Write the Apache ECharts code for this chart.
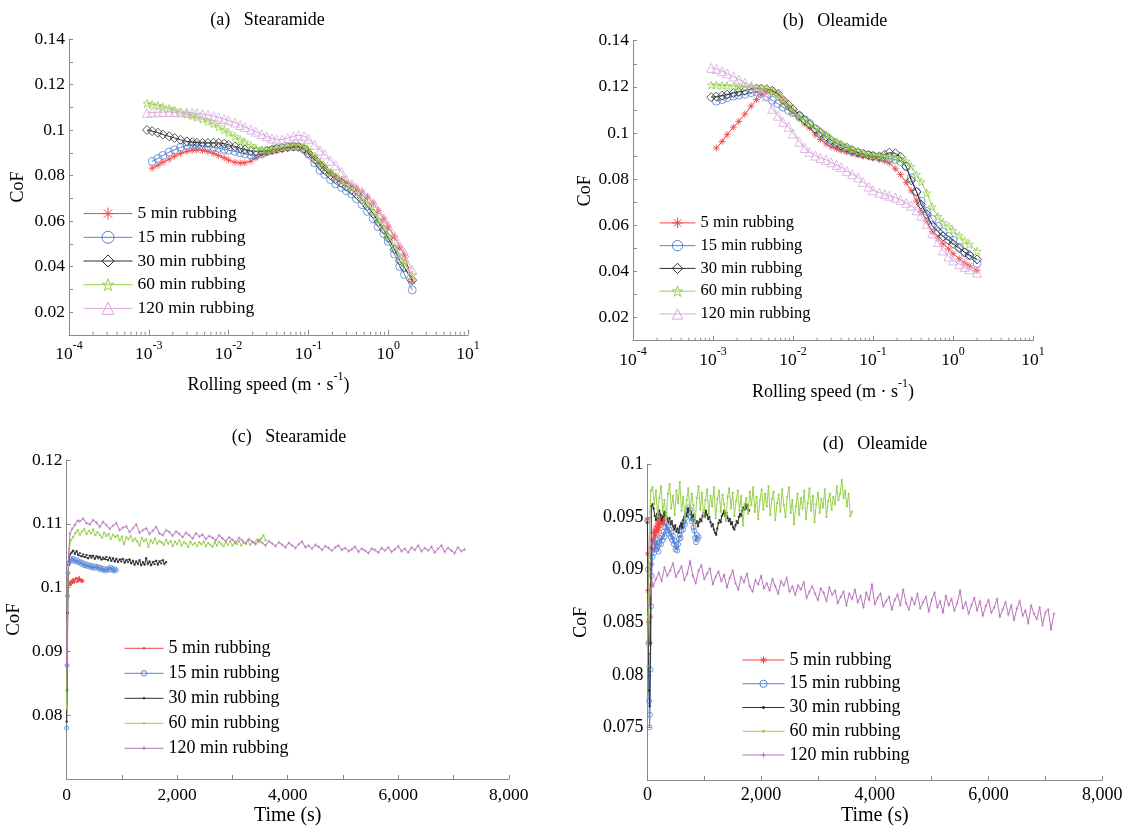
<!DOCTYPE html>
<html><head><meta charset="utf-8">
<script src="https://cdn.jsdelivr.net/npm/echarts@6/dist/echarts.min.js"></script>
<style>html,body{margin:0;padding:0;background:#fff}#c{width:1127px;height:827px}</style>
</head><body><div id="c"></div>
<script>
// ---------------- DATA ----------------
const seriesNames = ['5 min rubbing', '15 min rubbing', '30 min rubbing', '60 min rubbing', '120 min rubbing'];
const panelTitles = ['(a)   Stearamide', '(b)   Oleamide', '(c)   Stearamide', '(d)   Oleamide'];
const logTickLabels = ['-4', '-3', '-2', '-1', '0', '1'];
const minorLogTicks = [0.0002,0.0003,0.0004,0.0005,0.0006,0.0007,0.0008,0.0009,
  0.002,0.003,0.004,0.005,0.006,0.007,0.008,0.009,
  0.02,0.03,0.04,0.05,0.06,0.07,0.08,0.09,
  0.2,0.3,0.4,0.5,0.6,0.7,0.8,0.9,
  2,3,4,5,6,7,8,9];

// rolling speed (m/s) shared by panels (a) and (b)
const speed = [0.00095,0.0011,0.0013,0.0015,0.0018,0.0021,0.0025,0.003,0.0035,0.004,
  0.0047,0.0055,0.0065,0.0075,0.0088,0.01,0.012,0.014,0.016,0.019,
  0.022,0.026,0.03,0.035,0.04,0.047,0.055,0.065,0.075,0.088,
  0.1,0.12,0.14,0.16,0.19,0.22,0.26,0.3,0.35,0.4,
  0.47,0.55,0.65,0.75,0.88,1.0,1.2,1.4,1.6,2.0];

// (a) Stearamide, CoF vs rolling speed
const a5 = [null,0.0832,0.0845,0.0858,0.0872,0.0885,0.0897,0.0906,0.0911,0.0912,
  0.0910,0.0905,0.0897,0.0888,0.0878,0.0868,0.0858,0.0855,0.0856,0.0863,
  0.0878,0.0892,0.0899,0.0904,0.0908,0.0914,0.0920,0.0925,0.0926,0.0918,
  0.0902,0.0878,0.0852,0.0835,0.0810,0.0795,0.0782,0.0768,0.0755,0.0742,
  0.0728,0.0705,0.0678,0.0645,0.0610,0.0575,0.0530,0.0485,0.0450,0.0335];
const a15 = [null,0.0862,0.0875,0.0888,0.0903,0.0913,0.0924,0.0932,0.0935,0.0934,
  0.0931,0.0927,0.0924,0.0920,0.0915,0.0911,0.0906,0.0900,0.0895,0.0890,
  0.0889,0.0895,0.0905,0.0912,0.0917,0.0921,0.0925,0.0927,0.0926,0.0915,
  0.0893,0.0855,0.0822,0.0805,0.0782,0.0763,0.0748,0.0733,0.0718,0.0698,
  0.0672,0.0642,0.0610,0.0575,0.0545,0.0510,0.0455,0.0400,0.0365,0.0297];
const a30 = [0.1000,0.0995,0.0988,0.0980,0.0972,0.0965,0.0957,0.0950,0.0946,0.0944,
  0.0943,0.0943,0.0944,0.0943,0.0940,0.0935,0.0928,0.0920,0.0914,0.0908,
  0.0905,0.0906,0.0910,0.0914,0.0918,0.0922,0.0925,0.0927,0.0926,0.0917,
  0.0898,0.0870,0.0845,0.0825,0.0802,0.0785,0.0768,0.0752,0.0737,0.0718,
  0.0695,0.0665,0.0632,0.0595,0.0562,0.0525,0.0475,0.0425,0.0395,0.0340];
const a60 = [0.1117,0.1113,0.1108,0.1102,0.1095,0.1088,0.1078,0.1069,0.1062,0.1056,
  0.1047,0.1037,0.1026,0.1014,0.1000,0.0988,0.0972,0.0958,0.0947,0.0932,
  0.0920,0.0913,0.0912,0.0915,0.0919,0.0924,0.0928,0.0931,0.0933,0.0928,
  0.0912,0.0885,0.0858,0.0840,0.0815,0.0797,0.0779,0.0762,0.0747,0.0728,
  0.0705,0.0676,0.0642,0.0605,0.0570,0.0535,0.0490,0.0445,0.0415,0.0363];
const a120 = [0.1075,0.1077,0.1078,0.1079,0.1079,0.1079,0.1078,0.1077,0.1075,0.1073,
  0.1070,0.1066,0.1061,0.1055,0.1048,0.1042,0.1033,0.1022,0.1013,0.1002,
  0.0993,0.0982,0.0972,0.0963,0.0958,0.0958,0.0965,0.0973,0.0977,0.0973,
  0.0962,0.0935,0.0910,0.0893,0.0865,0.0845,0.0815,0.0780,0.0762,0.0745,
  0.0728,0.0705,0.0679,0.0645,0.0610,0.0580,0.0535,0.0490,0.0460,0.0385];

// (b) Oleamide, CoF vs rolling speed
const b5 = [null,0.0935,0.0963,0.0993,0.1025,0.1050,0.1082,0.1117,0.1145,0.1165,
  0.1180,0.1182,0.1168,0.1143,0.1113,0.1087,0.1062,0.1040,0.1022,0.0992,
  0.0972,0.0953,0.0940,0.0932,0.0925,0.0918,0.0911,0.0905,0.0900,0.0896,
  0.0892,0.0885,0.0878,0.0870,0.0845,0.0820,0.0785,0.0750,0.0705,0.0660,
  0.0618,0.0572,0.0545,0.0520,0.0498,0.0477,0.0455,0.0437,0.0425,0.0404];
const b15 = [null,0.1138,0.1145,0.1153,0.1160,0.1164,0.1168,0.1175,0.1179,0.1172,
  0.1158,0.1142,0.1127,0.1112,0.1098,0.1088,0.1073,0.1057,0.1042,0.1017,
  0.0997,0.0978,0.0958,0.0945,0.0935,0.0927,0.0920,0.0914,0.0909,0.0904,
  0.0899,0.0895,0.0891,0.0890,0.0885,0.0877,0.0855,0.0805,0.0745,0.0705,
  0.0660,0.0625,0.0595,0.0572,0.0552,0.0535,0.0505,0.0482,0.0468,0.0435];
const b30 = [0.1155,0.1158,0.1162,0.1166,0.1173,0.1178,0.1183,0.1190,0.1193,0.1193,
  0.1190,0.1183,0.1170,0.1143,0.1122,0.1102,0.1077,0.1055,0.1038,0.1018,
  0.1003,0.0985,0.0968,0.0955,0.0946,0.0937,0.0926,0.0916,0.0910,0.0905,
  0.0901,0.0899,0.0906,0.0915,0.0912,0.0897,0.0855,0.0795,0.0745,0.0690,
  0.0648,0.0598,0.0572,0.0552,0.0535,0.0520,0.0500,0.0483,0.0472,0.0452];
const b60 = [0.1208,0.1208,0.1206,0.1205,0.1203,0.1202,0.1200,0.1198,0.1196,0.1195,
  0.1188,0.1178,0.1165,0.1143,0.1118,0.1097,0.1074,0.1055,0.1041,0.1022,
  0.1008,0.0992,0.0975,0.0962,0.0952,0.0940,0.0930,0.0921,0.0913,0.0906,
  0.0902,0.0900,0.0899,0.0898,0.0893,0.0888,0.0878,0.0855,0.0820,0.0788,
  0.0740,0.0680,0.0638,0.0612,0.0595,0.0578,0.0555,0.0533,0.0518,0.0488];
const b120 = [0.1282,0.1278,0.1268,0.1258,0.1245,0.1232,0.1218,0.1204,0.1192,0.1178,
  0.1158,0.1105,0.1075,0.1048,0.1027,0.0998,0.0962,0.0935,0.0918,0.0902,
  0.0892,0.0884,0.0873,0.0862,0.0852,0.0835,0.0822,0.0808,0.0788,0.0768,
  0.0752,0.0742,0.0735,0.0728,0.0720,0.0710,0.0698,0.0685,0.0665,0.0642,
  0.0607,0.0565,0.0528,0.0491,0.0465,0.0448,0.0432,0.0420,0.0410,0.0395];

// (c) Stearamide, CoF vs time: ramp points [t, CoF], then regular samples
const c5Ramp = [[0,0.0838],[6,0.0905],[12,0.0962],[20,0.0995],[30,0.1003]];
const c5Start = 45, c5Step = 15;
const c5 = [0.1005,0.1009,0.1004,0.1011,0.1007,0.1013,0.1008,0.1012,0.1015,0.1009,
  0.1014,0.1010,0.1016,0.1011,0.1013,0.1009,0.1012,0.1010];
const c15Ramp = [[0,0.0780],[8,0.0878],[16,0.0987],[25,0.1023],[40,0.1038]];
const c15Start = 60, c15Step = 20;
const c15 = [0.1041,0.1045,0.1042,0.1046,0.1041,0.1044,0.1040,0.1043,0.1039,0.1041,
  0.1037,0.1040,0.1035,0.1038,0.1034,0.1037,0.1033,0.1036,0.1032,0.1035,
  0.1031,0.1034,0.1030,0.1034,0.1031,0.1033,0.1029,0.1032,0.1028,0.1031,
  0.1027,0.1030,0.1026,0.1029,0.1027,0.1031,0.1028,0.1032,0.1027,0.1030,
  0.1026,0.1029,0.1027];
const c30Ramp = [[0,0.0790],[10,0.0840],[20,0.0960],[35,0.1035],[60,0.1052]];
const c30Start = 90, c30Step = 30;
const c30 = [0.1055,0.1058,0.1053,0.1057,0.1051,0.1054,0.1049,0.1052,0.1048,0.1051,
  0.1046,0.1050,0.1047,0.1050,0.1045,0.1049,0.1046,0.1048,0.1044,0.1047,
  0.1045,0.1048,0.1043,0.1047,0.1042,0.1046,0.1041,0.1045,0.1040,0.1044,
  0.1041,0.1045,0.1039,0.1043,0.1040,0.1044,0.1038,0.1042,0.1036,0.1041,
  0.1037,0.1043,0.1035,0.1040,0.1036,0.1046,0.1037,0.1041,0.1035,0.1040,
  0.1037,0.1042,0.1036,0.1041,0.1038,0.1043,0.1037,0.1040];
const c60Ramp = [[0,0.0810],[15,0.0940],[30,0.1025],[50,0.1062],[80,0.1075]];
const c60Start = 120, c60Step = 40;
const c60 = [0.1079,0.1086,0.1090,0.1083,0.1088,0.1092,0.1084,0.1089,0.1085,0.1091,
  0.1082,0.1087,0.1083,0.1078,0.1086,0.1081,0.1084,0.1076,0.1083,0.1079,
  0.1082,0.1074,0.1080,0.1068,0.1079,0.1076,0.1081,0.1073,0.1077,0.1072,
  0.1066,0.1078,0.1073,0.1076,0.1064,0.1074,0.1070,0.1077,0.1069,0.1073,
  0.1071,0.1067,0.1075,0.1069,0.1073,0.1065,0.1072,0.1068,0.1074,0.1066,
  0.1071,0.1069,0.1064,0.1072,0.1067,0.1070,0.1065,0.1071,0.1068,0.1072,
  0.1065,0.1070,0.1067,0.1064,0.1071,0.1066,0.1072,0.1068,0.1065,0.1071,
  0.1067,0.1073,0.1066,0.1070,0.1068,0.1073,0.1066,0.1071,0.1069,0.1074,
  0.1067,0.1072,0.1070,0.1075,0.1071,0.1077,0.1082,0.1074];
const c120Ramp = [[0,0.0877],[15,0.0955],[30,0.1040],[60,0.1085],[100,0.1092],[150,0.1098],[200,0.1105]];
const c120Start = 240, c120Step = 60;
const c120 = [0.1104,0.1108,0.1101,0.1099,0.1106,0.1102,0.1095,0.1103,0.1098,0.1092,
  0.1097,0.1101,0.1090,0.1094,0.1096,0.1087,0.1093,0.1099,0.1086,0.1090,
  0.1093,0.1084,0.1089,0.1095,0.1085,0.1082,0.1090,0.1087,0.1081,0.1088,
  0.1084,0.1079,0.1086,0.1082,0.1077,0.1085,0.1080,0.1083,0.1076,0.1081,
  0.1078,0.1074,0.1082,0.1077,0.1073,0.1079,0.1075,0.1071,0.1078,0.1074,
  0.1069,0.1076,0.1072,0.1068,0.1075,0.1070,0.1066,0.1073,0.1069,0.1065,
  0.1071,0.1067,0.1063,0.1070,0.1066,0.1062,0.1068,0.1072,0.1063,0.1066,
  0.1061,0.1067,0.1064,0.1059,0.1065,0.1062,0.1058,0.1063,0.1066,0.1059,
  0.1062,0.1057,0.1060,0.1064,0.1056,0.1061,0.1058,0.1054,0.1061,0.1059,
  0.1055,0.1062,0.1058,0.1063,0.1056,0.1060,0.1065,0.1057,0.1061,0.1055,
  0.1063,0.1059,0.1066,0.1057,0.1062,0.1058,0.1064,0.1055,0.1061,0.1066,
  0.1056,0.1062,0.1058,0.1054,0.1063,0.1057,0.1060];

// (d) Oleamide, CoF vs time
const d5Ramp = [[0,0.0948],[8,0.0915],[16,0.0880],[24,0.0850],[32,0.0832],[40,0.0830],[50,0.0855],[60,0.0885],[70,0.0905],[80,0.0920]];
const d5Start = 95, d5Step = 12;
const d5 = [0.0928,0.0935,0.0926,0.0938,0.0932,0.0941,0.0935,0.0944,0.0937,0.0946,
  0.0940,0.0948,0.0943,0.0950,0.0945,0.0948,0.0944,0.0947];
const d15Ramp = [[0,0.0946],[10,0.0900],[20,0.0830],[30,0.0775],[38,0.0750],[45,0.0762],[55,0.0805],[65,0.0865],[75,0.0894]];
const d15Start = 90, d15Step = 15;
const d15 = [0.0912,0.0921,0.0916,0.0926,0.0919,0.0928,0.0922,0.0917,0.0925,0.0930,
  0.0924,0.0932,0.0928,0.0936,0.0931,0.0940,0.0944,0.0937,0.0941,0.0934,
  0.0938,0.0931,0.0935,0.0928,0.0932,0.0924,0.0927,0.0919,0.0922,0.0918,
  0.0924,0.0929,0.0933,0.0930,0.0937,0.0941,0.0938,0.0945,0.0943,0.0949,
  0.0952,0.0956,0.0959,0.0955,0.0957,0.0950,0.0946,0.0948,0.0940,0.0937,
  0.0930,0.0926,0.0933,0.0929,0.0931];
const d30Ramp = [[0,0.0945],[10,0.0880],[20,0.0820],[30,0.0785],[40,0.0770],[55,0.0830],[70,0.0960]];
const d30Start = 90, d30Step = 20;
const d30 = [0.0962,0.0958,0.0951,0.0947,0.0953,0.0949,0.0956,0.0952,0.0947,0.0950,
  0.0955,0.0951,0.0954,0.0948,0.0945,0.0949,0.0943,0.0946,0.0941,0.0938,
  0.0942,0.0936,0.0939,0.0935,0.0941,0.0944,0.0940,0.0947,0.0950,0.0953,
  0.0951,0.0958,0.0955,0.0959,0.0954,0.0950,0.0952,0.0947,0.0944,0.0946,
  0.0941,0.0945,0.0948,0.0946,0.0951,0.0954,0.0950,0.0956,0.0952,0.0948,
  0.0950,0.0945,0.0941,0.0943,0.0938,0.0935,0.0933,0.0939,0.0944,0.0947,
  0.0945,0.0951,0.0953,0.0956,0.0951,0.0954,0.0949,0.0946,0.0948,0.0943,
  0.0945,0.0940,0.0938,0.0942,0.0946,0.0944,0.0950,0.0953,0.0951,0.0956,
  0.0959,0.0957,0.0962,0.0958,0.0961,0.0956];
const d60Ramp = [[0,0.0808],[15,0.0855],[30,0.0912],[45,0.0955],[60,0.0975]];
const d60Start = 90, d60Step = 30;
const d60 = [0.0978,0.0962,0.0975,0.0950,0.0968,0.0979,0.0955,0.0966,0.0947,0.0972,
  0.0981,0.0958,0.0970,0.0952,0.0975,0.0963,0.0983,0.0956,0.0969,0.0948,
  0.0966,0.0977,0.0954,0.0972,0.0961,0.0945,0.0968,0.0979,0.0957,0.0973,
  0.0950,0.0966,0.0976,0.0953,0.0970,0.0960,0.0978,0.0949,0.0967,0.0975,
  0.0955,0.0971,0.0962,0.0946,0.0969,0.0977,0.0958,0.0973,0.0951,0.0965,
  0.0975,0.0956,0.0970,0.0942,0.0962,0.0968,0.0953,0.0974,0.0961,0.0978,
  0.0955,0.0969,0.0948,0.0966,0.0976,0.0957,0.0972,0.0960,0.0979,0.0952,
  0.0967,0.0974,0.0947,0.0963,0.0971,0.0955,0.0976,0.0961,0.0950,0.0969,
  0.0978,0.0954,0.0966,0.0943,0.0960,0.0972,0.0952,0.0968,0.0958,0.0975,
  0.0948,0.0963,0.0977,0.0956,0.0970,0.0945,0.0962,0.0973,0.0954,0.0967,
  0.0959,0.0976,0.0950,0.0965,0.0972,0.0957,0.0969,0.0962,0.0979,0.0966,
  0.0972,0.0985,0.0968,0.0975,0.0960,0.0972,0.0951,0.0955];
const d120Ramp = [[30,0.0865],[45,0.0882],[60,0.0876],[80,0.0888]];
const d120Start = 100, d120Step = 50;
const d120 = [0.0884,0.0891,0.0897,0.0889,0.0902,0.0894,0.0899,0.0906,0.0893,0.0898,
  0.0903,0.0890,0.0896,0.0908,0.0894,0.0887,0.0899,0.0904,0.0891,0.0896,
  0.0901,0.0886,0.0893,0.0898,0.0889,0.0895,0.0883,0.0892,0.0899,0.0887,
  0.0881,0.0893,0.0888,0.0896,0.0884,0.0879,0.0890,0.0886,0.0894,0.0882,
  0.0887,0.0880,0.0891,0.0884,0.0877,0.0889,0.0885,0.0892,0.0879,0.0884,
  0.0876,0.0885,0.0881,0.0888,0.0873,0.0879,0.0884,0.0877,0.0871,0.0882,
  0.0878,0.0870,0.0883,0.0876,0.0880,0.0868,0.0874,0.0879,0.0866,0.0877,
  0.0872,0.0881,0.0869,0.0875,0.0864,0.0878,0.0871,0.0886,0.0867,0.0873,
  0.0877,0.0865,0.0870,0.0874,0.0862,0.0871,0.0876,0.0866,0.0881,0.0868,
  0.0862,0.0873,0.0867,0.0877,0.0863,0.0869,0.0874,0.0860,0.0871,0.0878,
  0.0864,0.0870,0.0859,0.0875,0.0866,0.0872,0.0861,0.0868,0.0880,0.0863,
  0.0869,0.0858,0.0866,0.0873,0.0861,0.0870,0.0856,0.0865,0.0871,0.0859,
  0.0864,0.0872,0.0855,0.0862,0.0869,0.0857,0.0866,0.0852,0.0863,0.0870,
  0.0856,0.0861,0.0849,0.0866,0.0858,0.0853,0.0864,0.0847,0.0859,0.0862,
  0.0843,0.0858];

// ---------------- STYLE ----------------
const SERIF = "'Liberation Serif', 'Times New Roman', serif";
const RED = '#f24444', BLUE = '#5583d3', BLACK = '#2e2e2e', GREEN = '#9ad04e', PINK_L = '#d9a8de', PINK_D = '#b872bb';
const AXIS_C = '#8a8a8a';
const SYM_AST = 'path://M5,0L5,10M0,5L10,5M1.5,1.5L8.5,8.5M1.5,8.5L8.5,1.5';
const SYM_STAR = 'path://M5,0L6.2,3.6L10,3.6L6.9,5.9L8.1,9.5L5,7.3L1.9,9.5L3.1,5.9L0,3.6L3.8,3.6Z';
const SYM_DOT = 'path://M0,0M10,10M3.8,3.8L6.2,3.8L6.2,6.2L3.8,6.2Z';
const SYM_PLUS = 'path://M0,0M10,10M5,1.5L5,8.5M2,5L8,5';

const fmtNum = v => String(parseFloat(v.toFixed(4)));
const fmtThousands = v => String(v).replace(/\B(?=(\d{3})+(?!\d))/g, ',');

function speedData(ys) {
  return speed.map((x, i) => [x, ys[i]]).filter(p => p[1] != null);
}
function timeData(ramp, t0, dt, vals) {
  return ramp.concat(vals.map((v, i) => [t0 + i * dt, v]));
}

const gridBoxes = [
  {left: 69, top: 39, width: 399, height: 295.75},
  {left: 633, top: 40.7, width: 400, height: 300},
  {left: 66.6, top: 460, width: 442.2, height: 319.6},
  {left: 647.4, top: 464.3, width: 454.8, height: 316.7}
];

function baseAxis(nameSize) {
  return {
    axisLine: {show: true, onZero: false, lineStyle: {color: AXIS_C, width: 1}},
    axisTick: {show: true, inside: true, length: 4, lineStyle: {color: AXIS_C}},
    splitLine: {show: false},
    nameTextStyle: {fontFamily: SERIF, fontSize: nameSize || 18, color: '#000'}
  };
}
function labelFont(size) { return {color: '#000', fontFamily: SERIF, fontSize: size}; }

function logXAxis(gi, margin, nameGap) {
  return Object.assign(baseAxis(18), {
    type: 'log', logBase: 10, gridIndex: gi, min: 0.0001, max: 10, splitNumber: 5,
    axisLabel: Object.assign(labelFont(17.5), {
      margin: margin,
      formatter: v => '{b|10}{s|' + logTickLabels[Math.round(Math.log10(v)) + 4] + '}',
      rich: {
        b: {fontFamily: SERIF, fontSize: 17.5, color: '#000', lineHeight: 24, verticalAlign: 'bottom'},
        s: {fontFamily: SERIF, fontSize: 12, color: '#000', lineHeight: 12, verticalAlign: 'top'}
      }
    }),
    axisTick: {show: true, inside: true, length: 5, lineStyle: {color: AXIS_C}},
    name: '{n|Rolling speed (m · s}{s|-1}{n|)}', nameLocation: 'middle', nameGap: nameGap,
    nameTextStyle: {
      rich: {
        n: {fontFamily: SERIF, fontSize: 18, color: '#000', lineHeight: 24, verticalAlign: 'bottom'},
        s: {fontFamily: SERIF, fontSize: 12, color: '#000', lineHeight: 12, verticalAlign: 'top'}
      }
    }
  });
}
function timeXAxis(gi, margin, nameGap, size) {
  return Object.assign(baseAxis(20), {
    type: 'value', gridIndex: gi, min: 0, max: 8000, interval: 1000,
    axisLabel: Object.assign(labelFont(size), {margin: margin, formatter: v => (v % 2000 === 0 ? fmtThousands(v) : '')}),
    name: 'Time (s)', nameLocation: 'middle', nameGap: nameGap
  });
}
function yAxisDef(gi, min, max, interval, showFn, nameGap, size, nameSize) {
  return Object.assign(baseAxis(nameSize), {
    type: 'value', gridIndex: gi, min: min, max: max, interval: interval,
    axisLabel: Object.assign(labelFont(size), {margin: 4, formatter: v => (showFn(v) ? fmtNum(v) : '')}),
    name: 'CoF', nameLocation: 'middle', nameGap: nameGap
  });
}

function lineSeries(prefix, idx, gi, data, color, symbol, size, hollow, lw) {
  return {
    name: prefix + '|' + seriesNames[idx], type: 'line', xAxisIndex: gi, yAxisIndex: gi,
    data: data, symbol: symbol, symbolSize: size, showAllSymbol: true, silent: true,
    lineStyle: {color: color, width: lw || 1},
    itemStyle: hollow ? {color: 'rgba(0,0,0,0)', borderColor: color, borderWidth: 0.8}
                      : {color: color, borderColor: color, borderWidth: 0.6},
    emphasis: {disabled: true}, animation: false, z: 2 + idx
  };
}

function minorTickSeries(gi) {
  return {
    type: 'custom', xAxisIndex: gi, yAxisIndex: gi, silent: true, clip: false, animation: false,
    data: minorLogTicks.map(v => [v, 0.01]),
    renderItem: (p, api) => {
      const pt = api.coord([api.value(0), api.value(1)]);
      return {type: 'line', shape: {x1: pt[0], y1: pt[1], x2: pt[0], y2: pt[1] - 3},
              style: {stroke: AXIS_C, lineWidth: 1}};
    }
  };
}

const series = [
  lineSeries('a', 0, 0, speedData(a5), RED, SYM_AST, 7, true),
  lineSeries('a', 1, 0, speedData(a15), BLUE, 'circle', 8, true),
  lineSeries('a', 2, 0, speedData(a30), BLACK, 'diamond', 9, true),
  lineSeries('a', 3, 0, speedData(a60), GREEN, SYM_STAR, 8, true),
  lineSeries('a', 4, 0, speedData(a120), PINK_L, 'triangle', 9, true),
  lineSeries('b', 0, 1, speedData(b5), RED, SYM_AST, 7, true),
  lineSeries('b', 1, 1, speedData(b15), BLUE, 'circle', 8, true),
  lineSeries('b', 2, 1, speedData(b30), BLACK, 'diamond', 9, true),
  lineSeries('b', 3, 1, speedData(b60), GREEN, SYM_STAR, 8, true),
  lineSeries('b', 4, 1, speedData(b120), PINK_L, 'triangle', 9, true),
  lineSeries('c', 0, 2, timeData(c5Ramp, c5Start, c5Step, c5), RED, SYM_DOT, 6, false),
  lineSeries('c', 1, 2, timeData(c15Ramp, c15Start, c15Step, c15), BLUE, 'circle', 4, true),
  lineSeries('c', 2, 2, timeData(c30Ramp, c30Start, c30Step, c30), BLACK, SYM_DOT, 6, false),
  lineSeries('c', 3, 2, timeData(c60Ramp, c60Start, c60Step, c60), GREEN, SYM_DOT, 6, false),
  lineSeries('c', 4, 2, timeData(c120Ramp, c120Start, c120Step, c120), PINK_D, SYM_PLUS, 5, false),
  lineSeries('d', 0, 3, timeData(d5Ramp, d5Start, d5Step, d5), RED, SYM_AST, 6, true),
  lineSeries('d', 1, 3, timeData(d15Ramp, d15Start, d15Step, d15), BLUE, 'circle', 5, true),
  lineSeries('d', 2, 3, timeData(d30Ramp, d30Start, d30Step, d30), BLACK, SYM_DOT, 6, false),
  lineSeries('d', 3, 3, timeData(d60Ramp, d60Start, d60Step, d60), GREEN, SYM_DOT, 6, false),
  lineSeries('d', 4, 3, timeData(d120Ramp, d120Start, d120Step, d120), PINK_D, SYM_PLUS, 5, false),
  minorTickSeries(0),
  minorTickSeries(1)
];

function legendDef(prefix, left, top, itemWidth, itemHeight, gap, fontSize) {
  return {
    data: seriesNames.map(n => prefix + '|' + n), orient: 'vertical', left: left, top: top,
    padding: 0, itemGap: gap, itemWidth: itemWidth, itemHeight: itemHeight, selectedMode: false,
    formatter: name => name.split('|')[1],
    textStyle: {fontFamily: SERIF, fontSize: fontSize, color: '#000', lineHeight: fontSize},
    itemStyle: {borderWidth: 1}, lineStyle: {width: 1}
  };
}

function titleDef(i, cx, top) {
  return {text: panelTitles[i], left: cx, top: top, textAlign: 'center', padding: 0,
          textStyle: {fontFamily: SERIF, fontSize: 18, fontWeight: 'normal', color: '#000'}};
}

const option = {
  backgroundColor: '#fff',
  animation: false,
  title: [titleDef(0, 267.5, 11.5), titleDef(1, 835, 12.5), titleDef(2, 289, 428.5), titleDef(3, 875, 435.5)],
  grid: gridBoxes.map(g => Object.assign({containLabel: false}, g)),
  xAxis: [logXAxis(0, 5, 36), logXAxis(1, 5, 37), timeXAxis(2, 7, 27, 17.5), timeXAxis(3, 6, 26, 18)],
  yAxis: [
    yAxisDef(0, 0.01, 0.14, 0.01, v => Math.round(v * 100) % 2 === 0, 42, 17.5, 18),
    yAxisDef(1, 0.01, 0.14, 0.01, v => Math.round(v * 100) % 2 === 0, 38, 17.5, 18),
    yAxisDef(2, 0.07, 0.12, 0.01, v => Math.round(v * 100) !== 7, 43, 17.5, 19),
    yAxisDef(3, 0.07, 0.1, 0.005, v => Math.round(v * 1000) !== 70, 57, 18, 18)
  ],
  legend: [
    legendDef('a', 83, 204.6, 49, 15, 5.7, 17.5),
    legendDef('b', 659, 214.4, 36, 13, 5.75, 16.5),
    legendDef('c', 124, 639.3, 39, 7, 7, 18),
    legendDef('d', 742, 651, 42, 9, 5.75, 18)
  ],
  series: series
};

const chart = echarts.init(document.getElementById('c'), null, {renderer: 'canvas'});
chart.setOption(option);
</script>
</body></html>
